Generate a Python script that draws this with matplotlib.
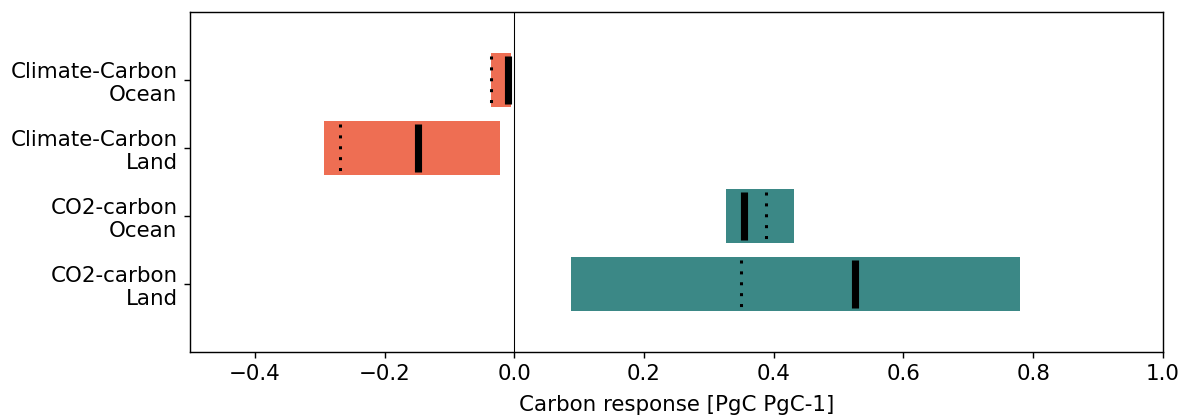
import matplotlib
matplotlib.use('Agg')
import matplotlib.pyplot as plt
import numpy as np

labels = ['Climate-Carbon\nOcean', 'Climate-Carbon\nLand', 'CO2-carbon\nOcean', 'CO2-carbon\nLand']
low = [-0.036, -0.293, 0.327, 0.087]
high = [-0.005, -0.022, 0.432, 0.780]
solid_val = [-0.009, -0.149, 0.354, 0.525]
dotted_val = [-0.036, -0.268, 0.388, 0.350]
colors = ['#ee6e53', '#ee6e53', '#3b8886', '#3b8886']

dpi = 128
fig = plt.figure(figsize=(1183 / dpi, 416 / dpi), dpi=dpi)
ax = fig.add_axes([0.1606, 0.154, 0.8224, 0.817])

y = np.arange(1, len(labels) + 1)
ax.barh(y, np.array(high) - np.array(low), left=low, height=0.8, color=colors)
ax.vlines(solid_val, y - 0.35, y + 0.35, color='black', linewidth=4)
ax.vlines(dotted_val, y - 0.35, y + 0.35, color='black', linewidth=1.7,
          linestyles=[(0, (1, 2.6))])
ax.axvline(0, color='black', linewidth=0.6)

ax.set_xlim(-0.5, 1.0)
ax.set_ylim(5, 0)
ax.set_yticks(y)
ax.set_yticklabels(labels, fontsize=12, ha='right')
ax.tick_params(axis='x', labelsize=12)
ax.set_xlabel('Carbon response [PgC PgC-1]', fontsize=12, labelpad=6)

fig.savefig('out.png', dpi=dpi)
